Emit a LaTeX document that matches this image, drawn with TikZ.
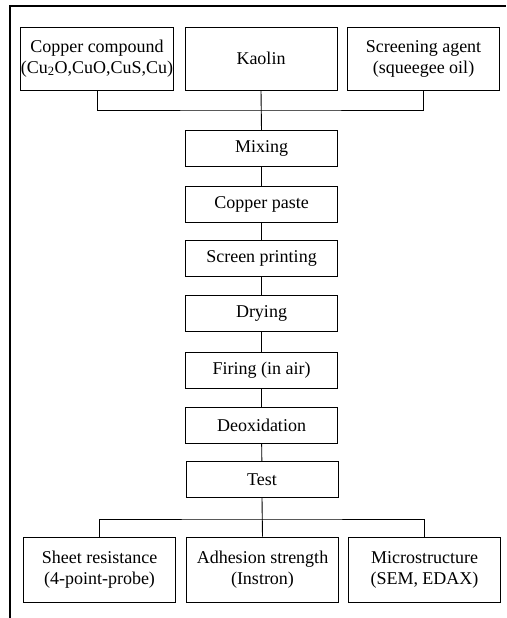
\documentclass[tikz,border=0pt]{standalone}
\usepackage{fontspec}
\setmainfont{Liberation Serif}
\usetikzlibrary{positioning}

\begin{document}
\begin{tikzpicture}[x=1pt, y=-1pt,
  box/.style={draw, line width=0.9pt, minimum width=152pt, minimum height=63pt, inner sep=0pt, align=center, font=\fontsize{18}{21}\selectfont},
  stepbox/.style={box, minimum height=36pt},
  link/.style={line width=0.9pt},
]
  \useasboundingbox (0,0) rectangle (506,618);
  \draw[line width=2pt] (10,618) -- (10,6) -- (506,6);

  % raw materials
  \node[box] (cu)   at (97, 58.5)    {Copper compound\\(Cu\textsubscript{2}O,CuO,CuS,Cu)};
  \node[box] (kao)  at (261, 58.5)   {Kaolin};
  \node[box] (scr)  at (423.5, 58.5) {Screening agent\\(squeegee oil)};

  % process steps
  \node[stepbox] (mix)   at (261.5, 148.5) {Mixing};
  \node[stepbox] (paste) at (261.5, 204)   {Copper paste};
  \node[stepbox] (print) at (261.5, 258.5) {Screen printing};
  \node[stepbox] (dry)   at (261.5, 313.5) {Drying};
  \node[stepbox] (fire)  at (261.5, 370)   {Firing (in air)};
  \node[stepbox] (deox)  at (261.5, 425.5) {Deoxidation};
  \node[stepbox] (test)  at (262, 479.5)   {Test};

  % measurements
  \node[box, minimum height=65pt] (sheet) at (99.5, 569.5)  {Sheet resistance\\(4-point-probe)};
  \node[box, minimum height=65pt] (adh)   at (262.5, 569.5) {Adhesion strength\\(Instron)};
  \node[box, minimum height=65pt] (micro) at (424.5, 569.5) {Microstructure\\(SEM, EDAX)};

  \coordinate (topbus) at (261, 110);
  \coordinate (botbus) at (262, 519);

  \draw[link] (cu.south) |- (topbus) -| (scr.south);
  \draw[link] (kao.south) -- (mix.north);
  \draw[link] (mix) -- (paste);
  \draw[link] (paste) -- (print);
  \draw[link] (print) -- (dry);
  \draw[link] (dry) -- (fire);
  \draw[link] (fire) -- (deox);
  \draw[link] (deox) -- (test);
  \draw[link] (test.south) -- (adh.north);
  \draw[link] (sheet.north) |- (botbus) -| (micro.north);
\end{tikzpicture}
\end{document}
